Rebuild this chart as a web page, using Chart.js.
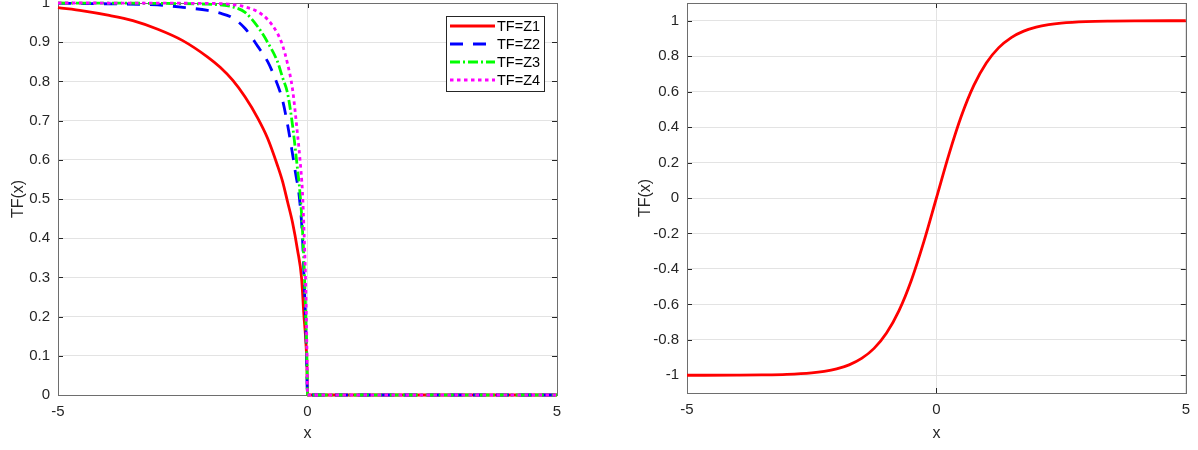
<!DOCTYPE html>
<html>
<head>
<meta charset="utf-8">
<script src="https://cdn.jsdelivr.net/npm/chart.js@4"></script>
<style>
  body { margin: 0; background: #fff; width: 1198px; height: 450px; position: relative; overflow: hidden; }
  canvas { position: absolute; top: -14px; }
  #graficoEsq { left: 0; }
  #graficoDir { left: 628px; }
</style>
</head>
<body>
<canvas id="graficoEsq" width="575" height="464"></canvas>
<canvas id="graficoDir" width="570" height="464"></canvas>
<script>
// valores
const xTicks = [-5, 0, 5];
const yTicksEsq = [0, 0.1, 0.2, 0.3, 0.4, 0.5, 0.6, 0.7, 0.8, 0.9, 1];
const yTicksDir = [-1, -0.8, -0.6, -0.4, -0.2, 0, 0.2, 0.4, 0.6, 0.8, 1];

const xZ1 = [-5, -4.5, -4, -3.5, -3, -2.5, -2, -1.75, -1.5, -1.25, -1, -0.8, -0.6, -0.5, -0.4, -0.3, -0.2, -0.12, -0.07, -0.04, -0.01, 0, 5];
const yZ1 = [0.988, 0.98, 0.969, 0.955, 0.933, 0.904, 0.862, 0.836, 0.803, 0.76, 0.707, 0.655, 0.585, 0.545, 0.493, 0.44, 0.37, 0.3, 0.2, 0.15, 0.07, 0, 0];

const xZ2 = [-5, -4, -3, -2.5, -2, -1.75, -1.5, -1.25, -1, -0.8, -0.65, -0.5, -0.4, -0.3, -0.24, -0.165, -0.1, -0.07, -0.04, -0.02, 0, 5];
const yZ2 = [0.999, 0.998, 0.995, 0.989, 0.981, 0.974, 0.962, 0.935, 0.89, 0.851, 0.808, 0.752, 0.69, 0.615, 0.566, 0.506, 0.4, 0.3, 0.2, 0.1, 0, 0];

const xZ3 = [-5, -3, -2, -1.75, -1.5, -1.25, -1, -0.8, -0.6, -0.5, -0.4, -0.3, -0.2, -0.15, -0.1, -0.06, -0.03, -0.01, 0, 5];
const yZ3 = [1, 0.999, 0.997, 0.995, 0.99, 0.976, 0.94, 0.9, 0.85, 0.81, 0.77, 0.688, 0.576, 0.515, 0.42, 0.3, 0.18, 0.08, 0, 0];

const xZ4 = [-5, -2, -1.5, -1.25, -1, -0.8, -0.6, -0.5, -0.4, -0.3, -0.2, -0.15, -0.1, -0.07, -0.04, -0.02, -0.01, 0, 5];
const yZ4 = [1, 0.999, 0.996, 0.99, 0.978, 0.958, 0.922, 0.892, 0.845, 0.78, 0.665, 0.6, 0.515, 0.42, 0.3, 0.18, 0.1, 0, 0];

const xTanh = [-5, -4, -3.5, -3, -2.5, -2.25, -2, -1.75, -1.5, -1.25, -1, -0.75, -0.5, -0.25, 0, 0.25, 0.5, 0.75, 1, 1.25, 1.5, 1.75, 2, 2.25, 2.5, 3, 3.5, 4, 5];
const yTanh = [-0.9999, -0.9993, -0.9982, -0.9951, -0.9866, -0.978, -0.964, -0.9414, -0.9051, -0.8483, -0.7616, -0.6351, -0.4621, -0.2449, 0, 0.2449, 0.4621, 0.6351, 0.7616, 0.8483, 0.9051, 0.9414, 0.964, 0.978, 0.9866, 0.9951, 0.9982, 0.9993, 0.9999];

const fonte = '"Liberation Sans", Arial, sans-serif';
const corTexto = '#262626';
Chart.defaults.font.family = fonte;
Chart.defaults.color = corTexto;

const pontos = (xs, ys) => xs.map((x, i) => ({ x: x, y: ys[i] }));

// caixa e marcas de escala para dentro (estilo MATLAB)
const moldura = {
  id: 'moldura',
  beforeDatasetsDraw(chart) {
    const { ctx, chartArea: a, scales } = chart;
    ctx.save();
    ctx.strokeStyle = '#262626';
    ctx.lineWidth = 1;
    ctx.beginPath();
    scales.x.ticks.forEach(t => {
      const px = Math.round(scales.x.getPixelForValue(t.value)) + 0.5;
      ctx.moveTo(px, a.bottom); ctx.lineTo(px, a.bottom - 5);
      ctx.moveTo(px, a.top); ctx.lineTo(px, a.top + 5);
    });
    scales.y.ticks.forEach(t => {
      const py = Math.round(scales.y.getPixelForValue(t.value)) + 0.5;
      ctx.moveTo(a.left, py); ctx.lineTo(a.left + 5, py);
      ctx.moveTo(a.right, py); ctx.lineTo(a.right - 5, py);
    });
    ctx.stroke();
    ctx.strokeStyle = '#6e6e6e';
    ctx.strokeRect(Math.round(a.left) + 0.5, Math.round(a.top) + 0.5,
      Math.round(a.right - a.left), Math.round(a.bottom - a.top));
    ctx.restore();
  }
};

const legendaInterna = {
  id: 'legendaInterna',
  afterDatasetsDraw(chart) {
    const { ctx, chartArea: a } = chart;
    const w = 98, h = 75;
    const x0 = Math.round(a.right - 13 - w), y0 = Math.round(a.top + 13);
    ctx.save();
    ctx.fillStyle = '#fff';
    ctx.fillRect(x0, y0, w, h);
    ctx.strokeStyle = '#262626';
    ctx.lineWidth = 1;
    ctx.strokeRect(x0 + 0.5, y0 + 0.5, w, h);
    chart.data.datasets.forEach((ds, i) => {
      const y = y0 + 10 + i * 18;
      ctx.strokeStyle = ds.borderColor;
      ctx.lineWidth = ds.borderWidth;
      ctx.setLineDash(ds.borderDash || []);
      ctx.beginPath();
      ctx.moveTo(x0 + 4, y);
      ctx.lineTo(x0 + 49, y);
      ctx.stroke();
      ctx.setLineDash([]);
      ctx.fillStyle = '#000';
      ctx.font = '14.5px ' + fonte;
      ctx.textBaseline = 'middle';
      ctx.fillText(ds.label, x0 + 51, y + 1);
    });
    ctx.restore();
  }
};

function escalas(yMin, yMax, yTicks, larguraY, alturaX, padTituloY) {
  return {
    x: {
      type: 'linear', min: -5, max: 5,
      afterBuildTicks: s => { s.ticks = xTicks.map(v => ({ value: v })); },
      afterFit: s => { s.height = alturaX; },
      grid: { color: '#e3e3e3', drawTicks: false },
      border: { display: false },
      ticks: { padding: 8, font: { size: 15 }, color: corTexto, callback: v => String(v) },
      title: { display: true, text: 'x', font: { size: 16 }, color: corTexto, padding: { top: 0, bottom: 3 } }
    },
    y: {
      type: 'linear', min: yMin, max: yMax,
      afterBuildTicks: s => { s.ticks = yTicks.map(v => ({ value: v })); },
      afterFit: s => { s.width = larguraY; },
      grid: { color: '#e3e3e3', drawTicks: false },
      border: { display: false },
      ticks: { padding: 8, font: { size: 15 }, color: corTexto, callback: v => String(v) },
      title: { display: true, text: 'TF(x)', font: { size: 16 }, color: corTexto, padding: { top: padTituloY, bottom: 0 } }
    }
  };
}

const serie = (rotulo, xs, ys, cor, traco, ordem) => ({
  label: rotulo,
  data: pontos(xs, ys),
  borderColor: cor,
  borderWidth: 2.8,
  borderDash: traco,
  pointRadius: 0,
  fill: false,
  cubicInterpolationMode: 'monotone',
  clip: 4,
  order: ordem
});

new Chart(document.getElementById('graficoEsq'), {
  type: 'line',
  data: {
    datasets: [
      serie('TF=Z1', xZ1, yZ1, '#ff0000', [], 4),
      serie('TF=Z2', xZ2, yZ2, '#0000ff', [13, 10], 3),
      serie('TF=Z3', xZ3, yZ3, '#00ff00', [10, 3, 2, 3], 2),
      serie('TF=Z4', xZ4, yZ4, '#ff00ff', [3.5, 3.5], 1)
    ]
  },
  options: {
    responsive: false,
    animation: false,
    devicePixelRatio: 1,
    layout: { padding: { top: 2, right: 18, bottom: 4, left: 0 } },
    plugins: { legend: { display: false }, tooltip: { enabled: false } },
    scales: escalas(0, 1, yTicksEsq, 58, 51, 9)
  },
  plugins: [moldura, legendaInterna]
});

new Chart(document.getElementById('graficoDir'), {
  type: 'line',
  data: {
    datasets: [serie('TF', xTanh, yTanh, '#ff0000', [], 1)]
  },
  options: {
    responsive: false,
    animation: false,
    devicePixelRatio: 1,
    layout: { padding: { top: 2, right: 12, bottom: 4, left: 0 } },
    plugins: { legend: { display: false }, tooltip: { enabled: false } },
    scales: escalas(-1.1, 1.1, yTicksDir, 59, 53, 8)
  },
  plugins: [moldura]
});
</script>
</body>
</html>
